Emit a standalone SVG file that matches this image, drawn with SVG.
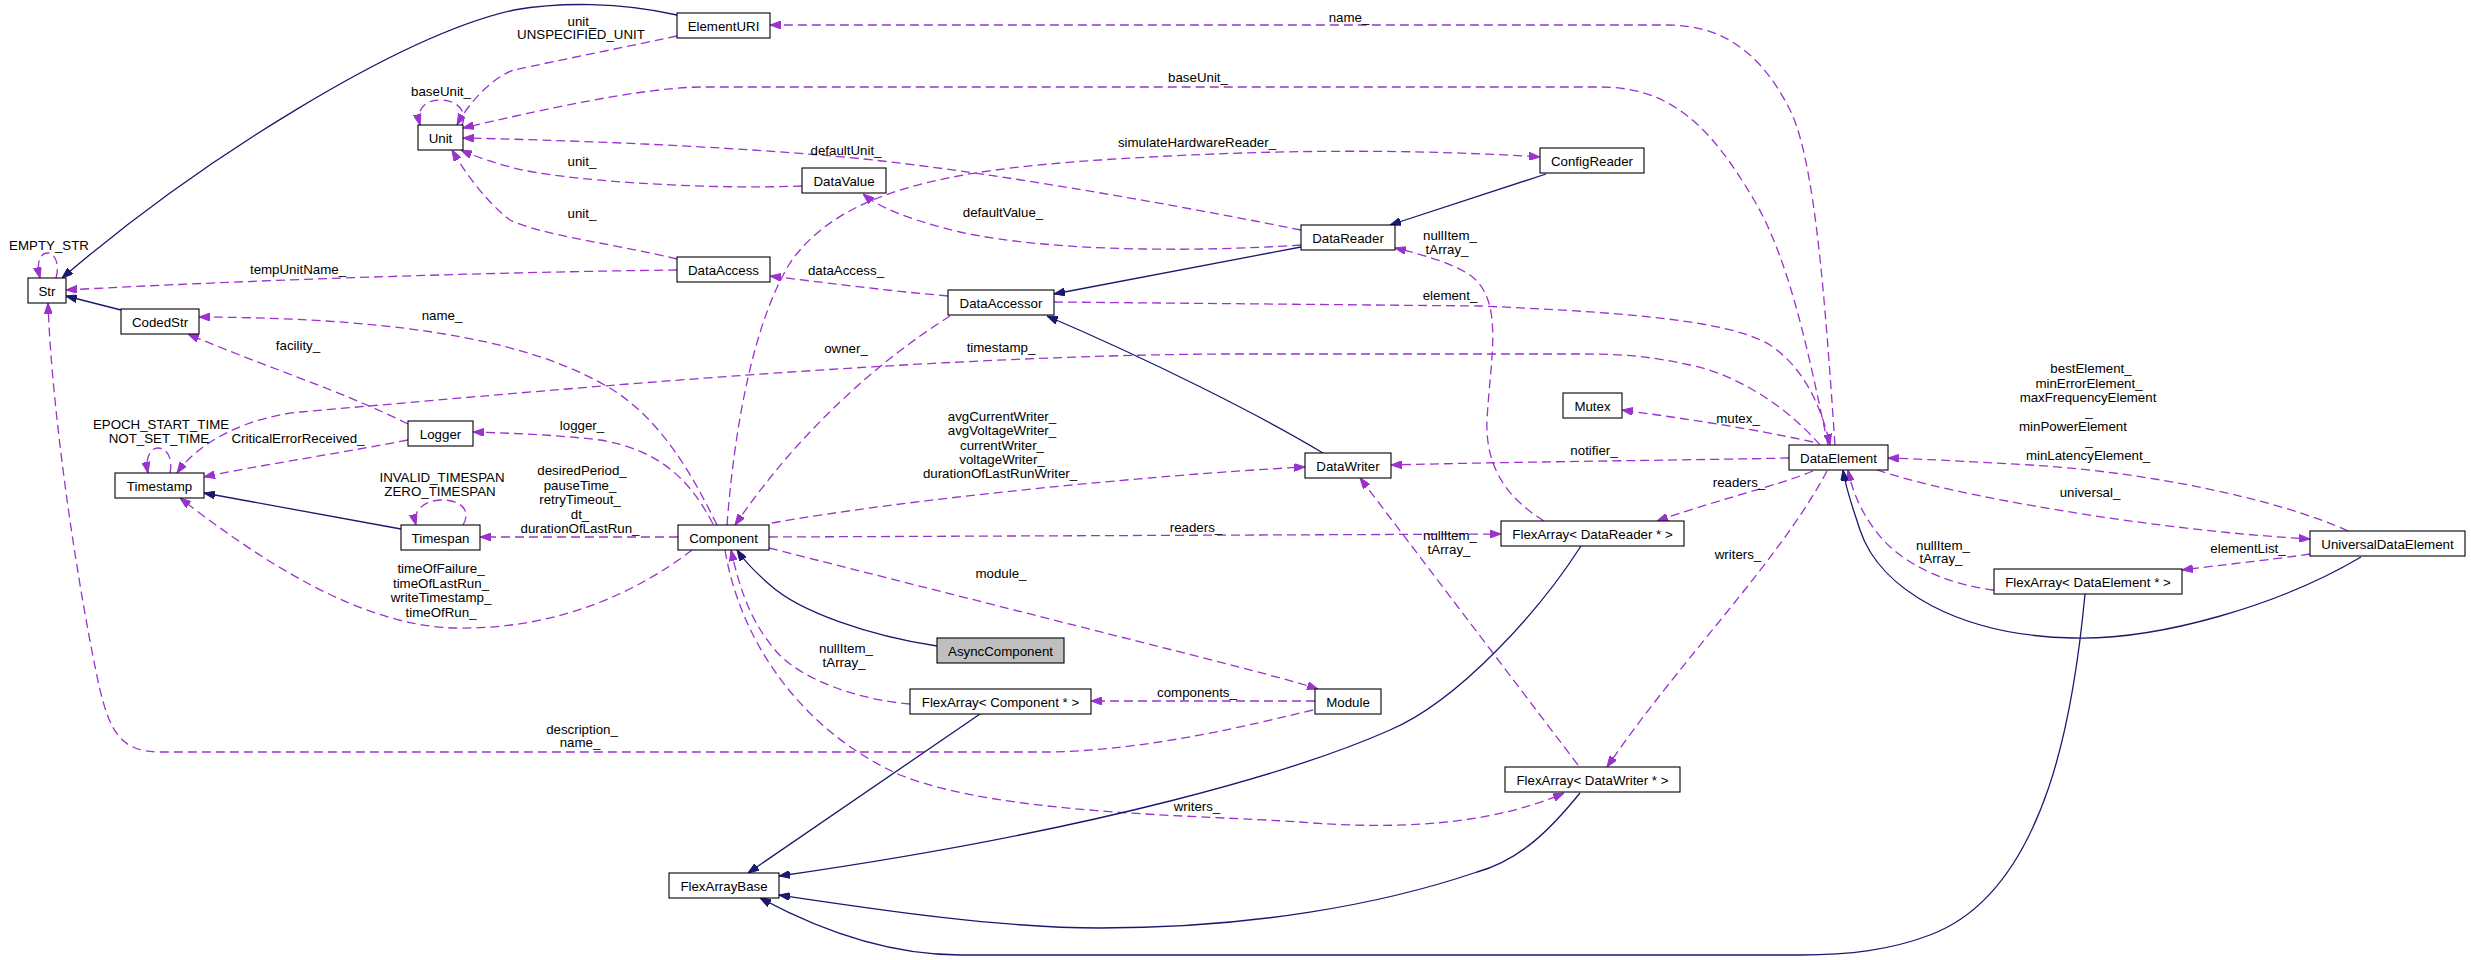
<svg xmlns="http://www.w3.org/2000/svg" width="2471" height="960" viewBox="0 0 2471 960">
<style>
.n rect{fill:#fff;stroke:#000;stroke-width:1.1}
.n text,.l text{font-family:"Liberation Sans",Arial,Helvetica,sans-serif;font-size:13.3px;text-anchor:middle;fill:#000}
.u{fill:none;stroke:#9a32cd;stroke-width:1.3;stroke-dasharray:9,5;marker-end:url(#ap)}
.i{fill:none;stroke:#191970;stroke-width:1.3;marker-end:url(#an)}
</style>
<defs>
<marker id="ap" viewBox="0 0 11 8" refX="11" refY="4" markerWidth="11" markerHeight="8" markerUnits="userSpaceOnUse" orient="auto"><path d="M0,0 L11,4 L0,8 z" fill="#9a32cd" stroke="#9a32cd" stroke-width="1"/></marker>
<marker id="an" viewBox="0 0 11 8" refX="11" refY="4" markerWidth="11" markerHeight="8" markerUnits="userSpaceOnUse" orient="auto"><path d="M0,0 L11,4 L0,8 z" fill="#191970" stroke="#191970" stroke-width="1"/></marker>
</defs>
<rect width="2471" height="960" fill="#fff"/>
<g id="connectors">
<path class="i" d="M677,15 C620,2 560,2 514,10 C400,35 200,160 62,278"/>
<path class="i" d="M121,310 L66,296"/>
<path class="u" d="M677,36 C640,44 560,60 514,70 C495,76 470,100 457,125"/>
<path class="u" d="M462,125 C468,112 458,100 440,100 C424,100 416,110 420,125"/>
<path class="u" d="M1828,445 C1810,360 1790,260 1754,200 C1710,125 1670,87 1600,87 L700,87 C640,88 540,110 463,128"/>
<path class="u" d="M1835,445 C1825,300 1815,160 1790,110 C1760,50 1720,25 1667,25 L770,25"/>
<path class="u" d="M1301,230 C1150,200 950,165 820,155 C700,145 560,140 463,138"/>
<path class="u" d="M802,186 C700,190 560,180 514,168 C495,163 476,157 461,150"/>
<path class="u" d="M677,259 C620,245 540,235 510,220 C490,205 468,178 452,150"/>
<path class="u" d="M56,278 C60,265 55,253 48,253 C40,253 36,262 40,278"/>
<path class="u" d="M677,270 C500,272 250,280 66,290"/>
<path class="u" d="M1313,710 C1250,725 1150,750 1050,752 L160,752 C120,752 110,730 100,690 C80,600 52,420 48,303"/>
<path class="u" d="M717,525 C690,470 660,420 613,390 C540,345 420,318 199,317"/>
<path class="u" d="M408,424 C340,390 260,365 188,334"/>
<path class="u" d="M727,525 C735,420 755,320 790,263 C840,190 950,170 1100,160 C1250,150 1400,148 1540,157"/>
<path class="u" d="M1301,245 C1200,252 1050,252 960,232 C910,220 880,208 863,194"/>
<path class="u" d="M948,296 C880,290 820,282 770,276"/>
<path class="u" d="M1054,302 L1480,306 C1620,312 1730,320 1770,345 C1800,365 1820,400 1830,445"/>
<path class="u" d="M950,316 C880,360 800,430 735,525"/>
<path class="u" d="M1820,445 C1790,410 1740,375 1690,365 C1650,356 1620,354 1580,354 L1220,354 C900,356 500,395 300,412 C250,417 200,440 177,473"/>
<path class="u" d="M170,473 C173,460 168,448 158,448 C150,448 145,458 148,473"/>
<path class="u" d="M408,440 C330,455 260,465 204,477"/>
<path class="u" d="M713,524 C690,480 660,450 600,440 C550,434 500,433 473,432"/>
<path class="u" d="M463,525 C472,510 460,500 442,500 C425,500 412,510 416,525"/>
<path class="u" d="M678,537 L480,537"/>
<path class="u" d="M692,550 C640,590 560,630 455,628 C360,626 260,560 180,498"/>
<path class="u" d="M772,523 C900,500 1150,475 1305,467"/>
<path class="u" d="M1789,458 C1700,460 1500,462 1391,465"/>
<path class="u" d="M1813,442 C1750,428 1680,418 1622,410"/>
<path class="u" d="M769,537 L1501,534"/>
<path class="u" d="M1813,471 C1780,485 1700,505 1657,521"/>
<path class="u" d="M1544,521 C1510,500 1485,470 1487,420 C1490,360 1505,300 1470,275 C1450,262 1420,254 1395,248"/>
<path class="u" d="M1578,765 L1360,478"/>
<path class="u" d="M1827,471 C1780,560 1680,660 1607,767"/>
<path class="u" d="M725,550 C740,640 800,730 900,775 C1000,815 1200,815 1300,822 C1400,830 1490,825 1564,793"/>
<path class="u" d="M769,548 L1200,657 C1250,670 1290,680 1318,689"/>
<path class="u" d="M1315,701 L1091,701"/>
<path class="u" d="M910,704 C860,700 800,680 775,650 C750,620 740,590 731,550"/>
<path class="u" d="M2348,531 C2280,500 2150,472 2030,465 C1960,461 1920,459 1888,458"/>
<path class="u" d="M1877,470 C1950,495 2150,530 2310,539"/>
<path class="u" d="M2310,554 C2270,560 2220,565 2182,570"/>
<path class="u" d="M1994,590 C1950,585 1900,565 1875,530 C1860,510 1852,490 1848,470"/>
<path class="i" d="M1546,174 L1390,225"/>
<path class="i" d="M1301,247 L1054,294"/>
<path class="i" d="M1323,453 C1260,415 1150,360 1047,316"/>
<path class="i" d="M401,529 L204,493"/>
<path class="i" d="M937,646 C870,636 800,612 770,585 C755,572 745,562 737,550"/>
<path class="i" d="M980,714 L748,873"/>
<path class="i" d="M1581,546 C1540,610 1460,700 1390,730 C1300,770 1100,830 779,876"/>
<path class="i" d="M1580,793 C1550,830 1520,860 1477,872 C1380,905 1250,928 1100,928 C1000,928 880,910 779,895"/>
<path class="i" d="M2085,594 C2075,700 2050,890 1930,935 C1890,950 1850,955 1800,955 L960,955 C880,955 810,925 760,898"/>
<path class="i" d="M2361,557 C2280,605 2160,640 2074,638 C1960,636 1880,590 1860,530 C1852,505 1846,490 1843,470"/>
<g class="l">
<text x="582" y="26">unit_</text><text x="581" y="39">UNSPECIFIED_UNIT</text>
<text x="441" y="96">baseUnit_</text>
<text x="1198" y="82">baseUnit_</text>
<text x="1349" y="22">name_</text>
<text x="1197" y="147">simulateHardwareReader_</text>
<text x="846" y="155">defaultUnit_</text>
<text x="582" y="166">unit_</text>
<text x="1003" y="217">defaultValue_</text>
<text x="582" y="218">unit_</text>
<text x="49" y="250">EMPTY_STR</text>
<text x="298" y="274">tempUnitName_</text>
<text x="846" y="275">dataAccess_</text>
<text x="1450" y="240">nullItem_</text><text x="1447" y="254">tArray_</text>
<text x="1450" y="300">element_</text>
<text x="442" y="320">name_</text>
<text x="298" y="350">facility_</text>
<text x="846" y="353">owner_</text>
<text x="1001" y="352">timestamp_</text>
<text x="1738" y="423">mutex_</text>
<text x="1002" y="421">avgCurrentWriter_</text><text x="1002" y="435">avgVoltageWriter_</text><text x="1002" y="450">currentWriter_</text><text x="1002" y="464">voltageWriter_</text><text x="1000" y="478">durationOfLastRunWriter_</text>
<text x="161" y="429">EPOCH_START_TIME</text><text x="159" y="443">NOT_SET_TIME</text>
<text x="298" y="443">CriticalErrorReceived_</text>
<text x="582" y="430">logger_</text>
<text x="1594" y="455">notifier_</text>
<text x="1739" y="487">readers_</text>
<text x="2091" y="373">bestElement_</text><text x="2089" y="388">minErrorElement_</text><text x="2088" y="402">maxFrequencyElement</text><text x="2089" y="416">_</text><text x="2019" y="431" style="text-anchor:start">minPowerElement</text><text x="2089" y="445">_</text><text x="2088" y="460">minLatencyElement_</text>
<text x="442" y="482">INVALID_TIMESPAN</text><text x="440" y="496">ZERO_TIMESPAN</text>
<text x="582" y="475">desiredPeriod_</text><text x="580" y="489.5">pauseTime_</text><text x="580" y="504">retryTimeout_</text><text x="580" y="518.5">dt_</text><text x="580" y="533">durationOfLastRun_</text>
<text x="1196" y="532">readers_</text>
<text x="1450" y="540">nullItem_</text><text x="1449" y="554">tArray_</text>
<text x="2090" y="497">universal_</text>
<text x="1943" y="550">nullItem_</text><text x="1941" y="563">tArray_</text>
<text x="2248" y="553">elementList_</text>
<text x="1738" y="559">writers_</text>
<text x="441" y="573">timeOfFailure_</text><text x="441" y="588">timeOfLastRun_</text><text x="441" y="602">writeTimestamp_</text><text x="441" y="617">timeOfRun_</text>
<text x="1001" y="578">module_</text>
<text x="846" y="653">nullItem_</text><text x="844" y="667">tArray_</text>
<text x="1197" y="697">components_</text>
<text x="582" y="734">description_</text><text x="580" y="747">name_</text>
<text x="1197" y="811">writers_</text>
</g>
</g>
<g id="Str" class="n"><rect x="28" y="278" width="38" height="25"/><text x="47" y="295.5">Str</text></g>
<g id="CodedStr" class="n"><rect x="121" y="309" width="78" height="25"/><text x="160" y="326.5">CodedStr</text></g>
<g id="Unit" class="n"><rect x="418" y="125" width="45" height="25"/><text x="440.5" y="142.5">Unit</text></g>
<g id="Logger" class="n"><rect x="408" y="421" width="65" height="25"/><text x="440.5" y="438.5">Logger</text></g>
<g id="Timestamp" class="n"><rect x="115" y="473" width="89" height="25"/><text x="159.5" y="490.5">Timestamp</text></g>
<g id="Timespan" class="n"><rect x="401" y="525" width="79" height="25"/><text x="440.5" y="542.5">Timespan</text></g>
<g id="ElementURI" class="n"><rect x="677" y="13" width="93" height="25"/><text x="723.5" y="30.5">ElementURI</text></g>
<g id="DataValue" class="n"><rect x="802" y="168" width="84" height="25"/><text x="844" y="185.5">DataValue</text></g>
<g id="DataAccess" class="n"><rect x="677" y="257" width="93" height="25"/><text x="723.5" y="274.5">DataAccess</text></g>
<g id="DataAccessor" class="n"><rect x="948" y="290" width="106" height="25"/><text x="1001" y="307.5">DataAccessor</text></g>
<g id="ConfigReader" class="n"><rect x="1540" y="148" width="104" height="25"/><text x="1592" y="165.5">ConfigReader</text></g>
<g id="DataReader" class="n"><rect x="1301" y="225" width="94" height="25"/><text x="1348" y="242.5">DataReader</text></g>
<g id="Mutex" class="n"><rect x="1563" y="393" width="59" height="25"/><text x="1592.5" y="410.5">Mutex</text></g>
<g id="DataWriter" class="n"><rect x="1305" y="453" width="86" height="25"/><text x="1348" y="470.5">DataWriter</text></g>
<g id="DataElement" class="n"><rect x="1789" y="445" width="99" height="25"/><text x="1838.5" y="462.5">DataElement</text></g>
<g id="Component" class="n"><rect x="678" y="525" width="91" height="25"/><text x="723.5" y="542.5">Component</text></g>
<g id="AsyncComponent" class="n"><rect x="937" y="638" width="127" height="25" style="fill:#bfbfbf"/><text x="1000.5" y="655.5">AsyncComponent</text></g>
<g id="FlexArrayComponent" class="n"><rect x="910" y="689" width="181" height="25"/><text x="1000.5" y="706.5">FlexArray&lt; Component * &gt;</text></g>
<g id="FlexArrayBase" class="n"><rect x="669" y="873" width="110" height="25"/><text x="724" y="890.5">FlexArrayBase</text></g>
<g id="FlexArrayDataReader" class="n"><rect x="1501" y="521" width="183" height="25"/><text x="1592.5" y="538.5">FlexArray&lt; DataReader * &gt;</text></g>
<g id="Module" class="n"><rect x="1315" y="689" width="66" height="25"/><text x="1348" y="706.5">Module</text></g>
<g id="FlexArrayDataWriter" class="n"><rect x="1505" y="767" width="175" height="25"/><text x="1592.5" y="784.5">FlexArray&lt; DataWriter * &gt;</text></g>
<g id="UniversalDataElement" class="n"><rect x="2310" y="531" width="155" height="25"/><text x="2387.5" y="548.5">UniversalDataElement</text></g>
<g id="FlexArrayDataElement" class="n"><rect x="1994" y="569" width="188" height="25"/><text x="2088" y="586.5">FlexArray&lt; DataElement * &gt;</text></g>
</svg>
